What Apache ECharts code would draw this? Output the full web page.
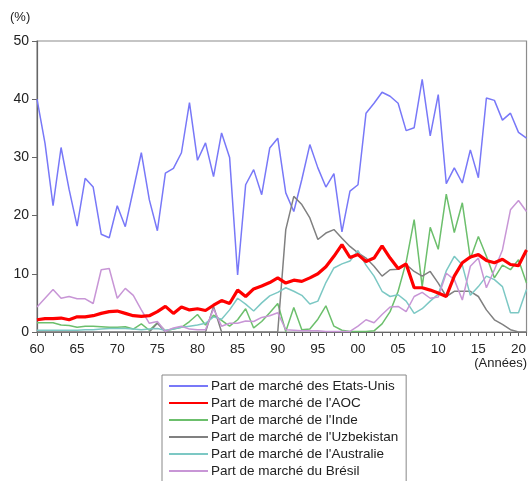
<!DOCTYPE html>
<html>
<head>
<meta charset="utf-8">
<script src="https://cdn.jsdelivr.net/npm/echarts@6/dist/echarts.min.js"></script>
<style>html,body{margin:0;padding:0;background:#fff;}#c{width:529px;height:481px;}</style>
</head>
<body>
<div id="c"></div>
<script>
const years = [];
for (let y = 1960; y <= 2021; y++) years.push(String(y));

const seriesNames = [
  "Part de marché des Etats-Unis",
  "Part de marché de l'AOC",
  "Part de marché de l'Inde",
  "Part de marché de l'Uzbekistan",
  "Part de marché de l'Australie",
  "Part de marché du Brésil"
];

const usa = [40.0, 32.4, 21.7, 31.7, 24.5, 18.2, 26.4, 24.9, 16.8, 16.2,
  21.7, 18.1, 24.4, 30.8, 22.7, 17.4, 27.3, 28.1, 30.8, 39.4,
  29.5, 32.5, 26.7, 34.2, 30.0, 9.8, 25.3, 27.9, 23.6, 31.6,
  33.3, 23.9, 20.7, 26.2, 32.2, 28.2, 24.9, 27.2, 17.2, 24.2,
  25.3, 37.6, 39.3, 41.2, 40.5, 39.3, 34.6, 35.1, 43.4, 33.7,
  40.8, 25.5, 28.2, 25.6, 31.3, 26.5, 40.2, 39.8, 36.4, 37.6,
  34.3, 33.3];

const aoc = [2.1, 2.3, 2.3, 2.4, 2.1, 2.6, 2.6, 2.8, 3.2, 3.5,
  3.6, 3.2, 2.8, 2.7, 2.8, 3.5, 4.4, 3.2, 4.3, 3.8,
  4.0, 3.7, 4.6, 5.4, 4.9, 7.2, 6.1, 7.4, 7.9, 8.5,
  9.3, 8.4, 8.9, 8.7, 9.3, 10.0, 11.2, 13.0, 15.0, 12.8,
  13.3, 12.1, 12.7, 14.8, 12.7, 10.9, 11.7, 7.6, 7.6, 7.2,
  6.7, 6.1, 9.6, 11.9, 12.9, 13.3, 12.3, 11.9, 12.5, 11.6,
  11.4, 14.1];

const inde = [1.6, 1.6, 1.6, 1.2, 1.1, 0.8, 1.0, 1.0, 0.9, 0.8,
  0.8, 0.9, 0.5, 1.4, 0.3, 1.6, 0.2, 0.5, 0.8, 1.8,
  3.0, 1.2, 2.9, 2.0, 1.0, 2.1, 4.0, 0.7, 1.8, 3.3,
  4.9, 0.1, 4.2, 0.4, 0.5, 2.2, 4.5, 1.0, 0.3, 0.1,
  0.1, 0.1, 0.2, 1.4, 3.5, 7.0, 12.0, 19.3, 7.8, 18.0,
  14.2, 23.7, 17.1, 22.2, 12.6, 16.4, 13.0, 9.3, 11.5, 10.7,
  12.4, 8.4];

const uzbek = [0, 0, 0, 0, 0, 0, 0, 0, 0, 0,
  0, 0, 0, 0, 0, 1.5, 0, 0, 0, 0,
  0, 0, 4.4, 0, 0, 0, 0, 0, 0, 0,
  0, 17.6, 23.3, 21.9, 19.6, 15.9, 17.0, 17.6, 16.1, 14.7,
  13.6, 12.7, 11.3, 9.6, 10.7, 10.8, 11.6, 10.4, 9.6, 10.4,
  8.4, 6.1, 7.0, 7.0, 7.0, 6.1, 3.8, 2.1, 1.3, 0.4,
  0, 0];

const australie = [0.3, 0.3, 0.3, 0.3, 0.3, 0.3, 0.4, 0.4, 0.5, 0.6,
  0.6, 0.6, 0.5, 0.4, 0.5, 0.6, 0.3, 0.5, 0.8, 1.0,
  1.2, 1.5, 2.6, 2.2, 3.8, 5.8, 4.8, 3.6, 5.0, 6.2,
  6.8, 7.6, 7.0, 6.3, 4.8, 5.3, 8.5, 11.0, 11.7, 12.2,
  14.0, 11.5, 9.6, 7.0, 6.1, 6.4, 5.3, 3.2, 4.0, 5.3,
  6.5, 10.5, 13.0, 11.5, 6.3, 7.8, 9.6, 9.0, 7.8, 3.3,
  3.3, 7.3];

const bresil = [4.3, 5.8, 7.3, 5.8, 6.1, 5.7, 5.7, 4.9, 10.7, 10.9,
  5.8, 7.5, 6.3, 3.8, 1.5, 1.8, 0.1, 0.7, 1.0, 0.5,
  0.4, 0.4, 4.0, 1.0, 1.5, 1.5, 1.9, 1.8, 2.5, 2.8,
  3.3, 0.4, 0.3, 0.2, 0.2, 0.2, 0.1, 0.1, 0.1, 0.1,
  1.0, 2.1, 1.6, 3.0, 4.3, 4.4, 3.5, 6.1, 6.8, 5.8,
  6.0, 10.1, 9.0, 5.5, 11.3, 12.7, 7.6, 10.7, 14.1, 21.0,
  22.6, 20.7];

const yTicks = [0, 10, 20, 30, 40, 50];

const colors = ['#7878F8', '#FF0000', '#6CBF6C', '#808080', '#7CC8C4', '#C896D6'];
const widths = [1.5, 3.2, 1.5, 1.5, 1.5, 1.5];
const dataList = [usa, aoc, inde, uzbek, australie, bresil];

const chart = echarts.init(document.getElementById('c'));
const font = '"Liberation Sans", Arial, sans-serif';

chart.setOption({
  animation: false,
  backgroundColor: '#fff',
  textStyle: { fontFamily: font },
  grid: { left: 37, right: 2, top: 41, bottom: 149, show: true, borderColor: '#8c8c8c', borderWidth: 1.2 },
  xAxis: {
    type: 'category',
    data: years,
    boundaryGap: false,
    axisLine: { lineStyle: { color: '#666', width: 1.2 } },
    axisTick: { show: true, interval: 0, length: 4, lineStyle: { color: '#666' } },
    axisLabel: {
      interval: function (i, v) { return (Number(v) - 1960) % 5 === 0; },
      formatter: function (v) { return v.slice(2); },
      color: '#222', fontSize: 13.5, margin: 10, fontFamily: font
    },
    splitLine: { show: false }
  },
  yAxis: {
    type: 'value',
    min: yTicks[0], max: yTicks[yTicks.length - 1], interval: 10,
    axisLine: { show: true, lineStyle: { color: '#666', width: 1.2 } },
    axisTick: { show: true, length: 5, lineStyle: { color: '#666' } },
    axisLabel: { color: '#222', fontSize: 14, margin: 8, fontFamily: font },
    splitLine: { show: false }
  },
  legend: {
    orient: 'vertical',
    left: 162, top: 375, height: 200,
    data: seriesNames.map(function (n) { return { name: n, itemStyle: { opacity: 0 } }; }),
    itemWidth: 39, itemHeight: 10, itemGap: 3,
    padding: [4, 8, 12, 6],
    borderColor: '#888', borderWidth: 1,
    textStyle: { color: '#222', fontSize: 13.5, lineHeight: 14, fontFamily: font, padding: [0, 0, 0, -2] }
  },
  graphic: [
    { type: 'text', left: 10, top: 11, style: { text: '(%)', fill: '#222', font: '13px ' + font } },
    { type: 'text', right: 2, top: 357, style: { text: '(Années)', fill: '#222', font: '13px ' + font } }
  ],
  series: seriesNames.map(function (n, i) {
    return {
      name: n, type: 'line', data: dataList[i], symbol: 'none', showSymbol: false,
      lineStyle: { color: colors[i], width: widths[i] }, itemStyle: { color: colors[i] },
      z: i === 1 ? 10 : 2
    };
  })
});
</script>
</body>
</html>
